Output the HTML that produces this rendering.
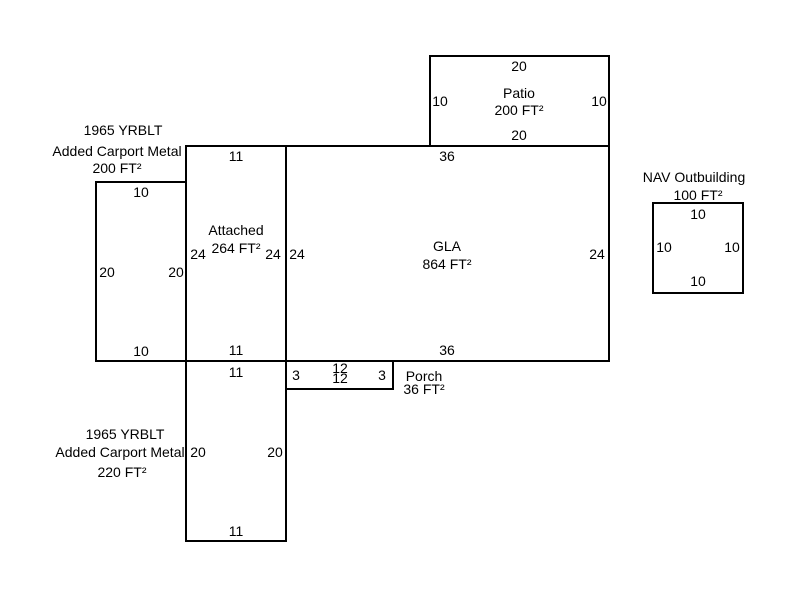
<!DOCTYPE html>
<html><head><style>body{margin:0;background:#fff}svg{display:block}text{font-family:"Liberation Sans",Arial,sans-serif;font-size:14px;fill:#000;text-anchor:middle}</style></head>
<body>
<svg width="800" height="600" viewBox="0 0 800 600">
<g fill="none" stroke="#000" stroke-width="2">
<rect x="430" y="56" width="179" height="90"/>
<rect x="286" y="146" width="323" height="215"/>
<rect x="186" y="146" width="100" height="215"/>
<rect x="96" y="182" width="90" height="179"/>
<rect x="186" y="361" width="100" height="180"/>
<rect x="286" y="361" width="107" height="28"/>
<rect x="653" y="203" width="90" height="90"/>
</g>
<text x="519" y="71">20</text><text x="440" y="106">10</text><text x="599" y="106">10</text>
<text x="519" y="98">Patio</text><text x="519" y="115">200 FT²</text><text x="519" y="140">20</text>
<text x="447" y="161">36</text><text x="447" y="355">36</text><text x="297" y="259">24</text><text x="597" y="259">24</text>
<text x="447" y="251">GLA</text><text x="447" y="269">864 FT²</text>
<text x="236" y="161">11</text><text x="236" y="355">11</text><text x="198" y="259">24</text><text x="273" y="259">24</text>
<text x="236" y="235">Attached</text><text x="236" y="253">264 FT²</text>
<text x="123" y="135">1965 YRBLT</text><text x="117" y="156">Added Carport Metal</text><text x="117" y="173">200 FT²</text>
<text x="141" y="197">10</text><text x="141" y="356">10</text><text x="107" y="277">20</text><text x="176" y="277">20</text>
<text x="236" y="377">11</text><text x="236" y="536">11</text><text x="198" y="457">20</text><text x="275" y="457">20</text>
<text x="125" y="439">1965 YRBLT</text><text x="120" y="457">Added Carport Metal</text><text x="122" y="477">220 FT²</text>
<text x="296" y="380">3</text><text x="382" y="380">3</text><text x="340" y="373">12</text><text x="340" y="383">12</text>
<text x="424" y="381">Porch</text><text x="424" y="394">36 FT²</text>
<text x="694" y="182">NAV Outbuilding</text><text x="698" y="200">100 FT²</text>
<text x="698" y="219">10</text><text x="698" y="286">10</text><text x="664" y="252">10</text><text x="732" y="252">10</text>
</svg>
</body></html>
